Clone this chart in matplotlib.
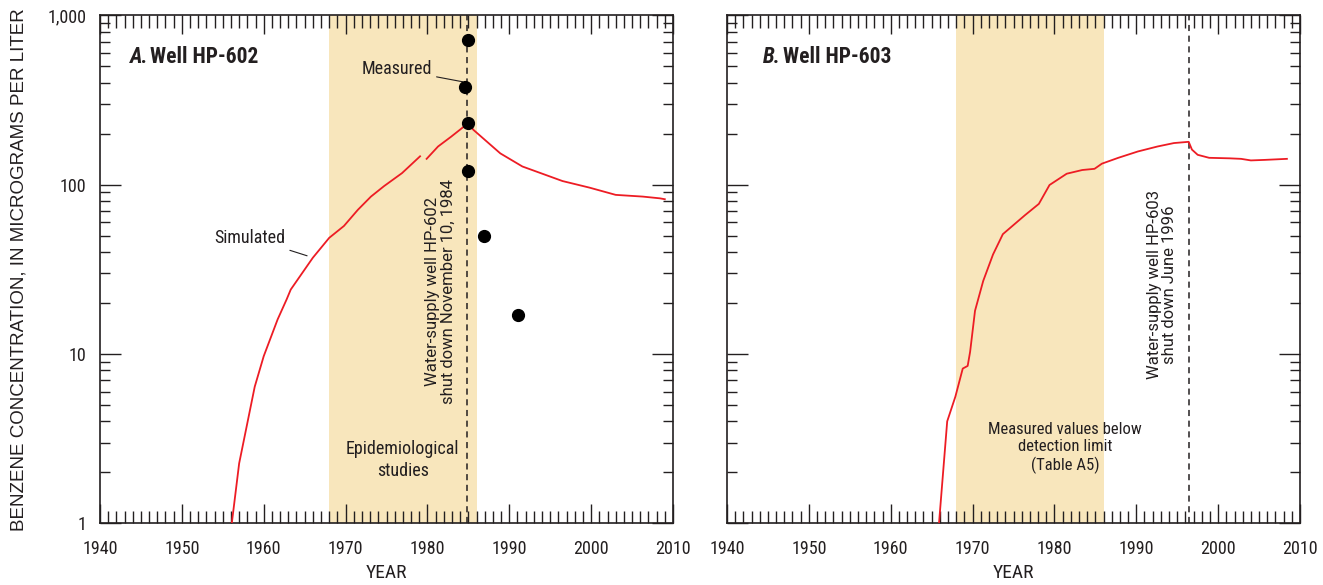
import numpy as np
import matplotlib
matplotlib.use('Agg')
import matplotlib.pyplot as plt
from matplotlib import font_manager
from matplotlib.ticker import FixedLocator, LogLocator, NullFormatter

# data
sim_a_years1 = [1956.1, 1957.0, 1957.9, 1958.9, 1960.0, 1961.7, 1962.8, 1963.3, 1966.0,
                1968.0, 1969.8, 1971.5, 1973.1, 1974.7, 1976.9, 1979.1]
sim_a_vals1 = [1.0, 2.26, 3.7, 6.4, 9.7, 16, 21, 24, 37,
               48.5, 57, 71, 85, 98, 117, 147]
sim_a_years2 = [1979.9, 1981.3, 1982.9, 1985.0, 1985.6, 1988.9, 1991.6, 1996.5, 1999.8,
                2003.0, 2006.3, 2008.4, 2009.0]
sim_a_vals2 = [142, 168, 192, 231, 211, 153, 128, 105, 96,
               87, 85, 83, 82]

meas_a_years = [1985.0, 1984.6, 1985.0, 1985.0, 1986.9, 1991.1]
meas_a_vals = [719, 379, 231, 120, 50, 17.1]

sim_b_years = [1965.9, 1966.9, 1967.9, 1968.8, 1969.4, 1969.7, 1970.3, 1971.3, 1972.5,
               1973.7, 1975.4, 1976.4, 1978.1, 1979.4, 1981.5, 1983.4, 1984.9, 1985.8,
               1987.8, 1990.2, 1992.6, 1994.6, 1996.4, 1996.8, 1997.5, 1998.9, 2001.4,
               2002.8, 2004.0, 2005.7, 2008.4]
sim_b_vals = [1.0, 4.0, 5.6, 8.2, 8.5, 10.3, 18, 27, 38.7,
              51, 60, 66, 77, 99.5, 116, 122, 124, 133,
              144, 157, 168, 176, 179, 161, 150, 144, 143,
              142, 139, 140, 142]

studies_span = (1968, 1986)
shutdown_a = 1984.86
shutdown_b = 1996.42

ytick_vals = [1, 10, 100, 1000]
ytick_labels = ['1', '10', '100', '1,000']
xtick_vals = [1940, 1950, 1960, 1970, 1980, 1990, 2000, 2010]

names = {f.name for f in font_manager.fontManager.ttflist}
narrow = [n for n in ['Liberation Sans Narrow', 'Roboto Condensed', 'Open Sans Condensed']
          if n in names]
cond = narrow + ['DejaVu Sans']
plain = ['Liberation Sans', 'DejaVu Sans']
rot = ['Roboto', 'Liberation Sans', 'DejaVu Sans']
stretch = 'normal' if narrow else 'condensed'

ink = '#231f20'
red = '#ed1c24'
tan = '#f8e6bc'

fig = plt.figure(figsize=(13.23, 5.85), dpi=100)
ax1 = fig.add_axes([100 / 1323, 61.7 / 585, 573 / 1323, 508 / 585])
ax2 = fig.add_axes([727 / 1323, 61.7 / 585, 573 / 1323, 508 / 585])

for ax in (ax1, ax2):
    ax.set_yscale('log')
    ax.set_xlim(1940, 2010)
    ax.set_ylim(1, 1000)
    ax.axvspan(*studies_span, color=tan, lw=0, zorder=0)
    ax.xaxis.set_major_locator(FixedLocator(xtick_vals))
    ax.xaxis.set_minor_locator(FixedLocator(np.arange(1941, 2010)))
    ax.yaxis.set_major_locator(FixedLocator(ytick_vals))
    ax.yaxis.set_minor_locator(LogLocator(base=10, subs=np.arange(2, 10)))
    ax.yaxis.set_minor_formatter(NullFormatter())
    ax.tick_params(which='both', direction='in', top=True, right=True, color=ink, width=1)
    ax.tick_params(which='major', axis='x', length=14, pad=12)
    ax.tick_params(which='minor', axis='x', length=9)
    ax.tick_params(which='major', axis='y', length=15, pad=10)
    ax.tick_params(which='minor', axis='y', length=7)
    for s in ax.spines.values():
        s.set_color(ink)
        s.set_linewidth(1.2)
    ax.set_xticklabels([str(v) for v in xtick_vals], family=cond, fontstretch=stretch,
                       fontsize=13, color=ink)
    ax.set_xlabel('YEAR', family=cond, fontstretch=stretch, fontsize=14, color=ink,
                  labelpad=4)

ax1.set_yticklabels(ytick_labels, family=cond, fontstretch=stretch, fontsize=13, color=ink)
ax2.set_yticklabels([])
ax1.set_ylabel('BENZENE CONCENTRATION, IN MICROGRAMS PER LITER', family=plain,
               fontsize=13.5, color=ink, labelpad=14)

# panel A
ax1.plot(sim_a_years1, sim_a_vals1, color=red, lw=1.3, zorder=3)
ax1.plot(sim_a_years2, sim_a_vals2, color=red, lw=1.3, zorder=3)
ax1.axvline(shutdown_a, color=ink, ls=(0, (4, 3)), lw=1.1, zorder=2)
ax1.plot(meas_a_years, meas_a_vals, 'o', color='black', ms=8.5, zorder=4)

ax1.text(1943.6, 564, 'A.', style='italic', weight='bold', family=cond,
         fontstretch=stretch, fontsize=15.5, color=ink, va='center')
ax1.text(1946.1, 564, 'Well HP-602', weight='bold', family=cond, fontstretch=stretch,
         fontsize=15.5, color=ink, va='center')
ax1.annotate('Measured', xy=(1984.3, 405), xytext=(1972.0, 479), family=cond,
             fontstretch=stretch, fontsize=13, color=ink, va='center', ha='left',
             arrowprops=dict(arrowstyle='-', color=ink, lw=0.8, shrinkA=1, shrinkB=0))
ax1.annotate('Simulated', xy=(1965.3, 38), xytext=(1954.0, 48.6), family=cond,
             fontstretch=stretch, fontsize=13, color=ink, va='center', ha='left',
             arrowprops=dict(arrowstyle='-', color=ink, lw=0.8, shrinkA=2, shrinkB=0))
ax1.text(1977, 2.36, 'Epidemiological\nstudies', family=cond, fontstretch=stretch,
         fontsize=13, color=ink, ha='center', va='center', linespacing=1.3)
ax1.text(shutdown_a - 3.3, 10 ** 1.367, 'Water-supply well HP-602\nshut down November 10, 1984',
         rotation=90, family=rot, fontsize=12, color=ink, ha='center', va='center',
         linespacing=1.05)

# panel B
ax2.plot(sim_b_years, sim_b_vals, color=red, lw=1.3, zorder=3)
ax2.axvline(shutdown_b, color=ink, ls=(0, (4, 3)), lw=1.1, zorder=2)
ax2.text(1944.4, 564, 'B.', style='italic', weight='bold', family=cond,
         fontstretch=stretch, fontsize=15.5, color=ink, va='center')
ax2.text(1946.9, 564, 'Well HP-603', weight='bold', family=cond, fontstretch=stretch,
         fontsize=15.5, color=ink, va='center')
ax2.text(1981.3, 2.78, 'Measured values below\ndetection limit\n(Table A5)', family=cond,
         fontstretch=stretch, fontsize=12, color=ink, ha='center', va='center',
         linespacing=1.2)
ax2.text(shutdown_b - 3.3, 10 ** 1.41, 'Water-supply well HP-603\nshut down June 1996',
         rotation=90, family=rot, fontsize=12, color=ink, ha='center', va='center',
         linespacing=1.05)

fig.savefig('out.png', dpi=100)
